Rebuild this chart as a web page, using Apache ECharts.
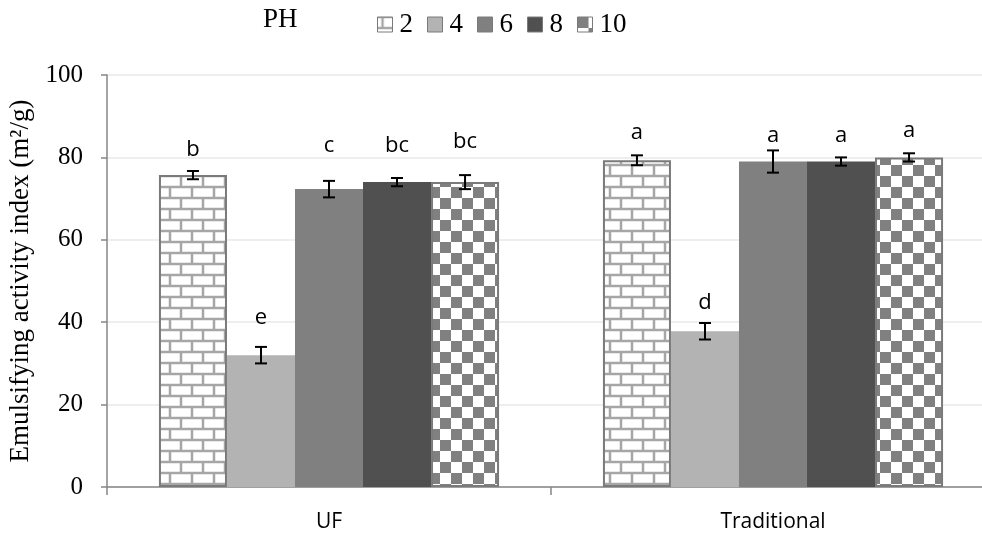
<!DOCTYPE html>
<html>
<head>
<meta charset="utf-8">
<script src="https://cdn.jsdelivr.net/npm/echarts@6/dist/echarts.min.js"></script>
<style>
html,body{margin:0;padding:0;background:#fff}
#chart{width:982px;height:538px}
</style>
</head>
<body>
<div id="chart"></div>
<script>
// 数据
var categories = ["UF", "Traditional"];
var phNames = ["2", "4", "6", "8", "10"];
var ph2 = [75.7, 79.3];
var ph4 = [32.0, 37.8];
var ph6 = [72.3, 79.0];
var ph8 = [74.0, 79.0];
var ph10 = [74.0, 80.0];
var err2 = [1.0, 1.2];
var err4 = [2.0, 2.0];
var err6 = [2.0, 2.7];
var err8 = [1.0, 1.0];
var err10 = [1.7, 1.0];
// 显著性字母及其基线高度(数据单位)
var letters2 = ["b", "a"];
var letters4 = ["e", "d"];
var letters6 = ["c", "a"];
var letters8 = ["bc", "a"];
var letters10 = ["bc", "a"];
var letterAt2 = [80.1, 84.2];
var letterAt4 = [39.3, 43.0];
var letterAt6 = [81.1, 83.5];
var letterAt8 = [81.1, 83.5];
var letterAt10 = [82.0, 84.7];
var yTicks = [0, 20, 40, 60, 80, 100];

var values = [ph2, ph4, ph6, ph8, ph10];
var errs = [err2, err4, err6, err8, err10];
var letters = [letters2, letters4, letters6, letters8, letters10];
var letterAt = [letterAt2, letterAt4, letterAt6, letterAt8, letterAt10];

var SERIF = "'Liberation Serif'";
var SANS = "'Open Sans'";

// 砖块纹理
function brickPattern(){
	var c = document.createElement("canvas");
	c.width = 22; c.height = 22;
	var ctx = c.getContext("2d");
	ctx.fillStyle = "#ffffff";
	ctx.fillRect(0, 0, 22, 22);
	ctx.strokeStyle = "#a6a6a6";
	ctx.lineWidth = 2.5;
	ctx.beginPath();
	ctx.moveTo(0, 0); ctx.lineTo(22, 0);
	ctx.moveTo(0, 11); ctx.lineTo(22, 11);
	ctx.moveTo(0, 22); ctx.lineTo(22, 22);
	ctx.moveTo(5, 0); ctx.lineTo(5, 11);
	ctx.moveTo(16, 11); ctx.lineTo(16, 22);
	ctx.stroke();
	return c;
}
// 棋盘纹理
function checkPattern(){
	var c = document.createElement("canvas");
	c.width = 22; c.height = 22;
	var ctx = c.getContext("2d");
	ctx.fillStyle = "#ffffff";
	ctx.fillRect(0, 0, 22, 22);
	ctx.fillStyle = "#808080";
	ctx.fillRect(0, 0, 11, 11);
	ctx.fillRect(11, 11, 11, 11);
	return c;
}

var fills = [
	{image: brickPattern(), repeat: "repeat"},
	"#b3b3b3",
	"#808080",
	"#505050",
	{image: checkPattern(), repeat: "repeat"}
];
var borders = [2, 0, 0, 0, 2];
var gapRatio = 0.234;

var series = [];
phNames.forEach(function(name, i){
	series.push({
		name: name,
		type: "bar",
		barGap: 0,
		barCategoryGap: (gapRatio * 100) + "%",
		itemStyle: {color: fills[i], borderColor: "#7a7a7a", borderWidth: borders[i]},
		data: values[i]
	});
});

// 误差线 + 字母标注
phNames.forEach(function(name, i){
	series.push({
		type: "custom",
		z: 5,
		silent: true,
		data: values[i].map(function(v, j){ return [j, v, errs[i][j], letterAt[i][j]]; }),
		renderItem: function(params, api){
			var j = api.value(0);
			var v = api.value(1);
			var e = api.value(2);
			var bw = api.size([1, 0])[0];
			var barW = bw * (1 - gapRatio) / 5;
			var cx = api.coord([j, 0])[0] + (i - 2) * barW;
			var top = api.coord([j, v + e])[1];
			var bot = api.coord([j, v - e])[1];
			var ly = api.coord([j, api.value(3)])[1];
			var cap = 6;
			var st = {stroke: "#000", lineWidth: 2};
			return {
				type: "group",
				children: [
					{type: "line", shape: {x1: cx, y1: top, x2: cx, y2: bot}, style: st},
					{type: "line", shape: {x1: cx - cap, y1: top, x2: cx + cap, y2: top}, style: st},
					{type: "line", shape: {x1: cx - cap, y1: bot, x2: cx + cap, y2: bot}, style: st},
					{type: "text", x: cx, y: ly - 7,
						style: {text: letters[i][j], fill: "#000", font: "22px " + SANS, align: "center", verticalAlign: "middle"}}
				]
			};
		}
	});
});

var myChart = echarts.init(document.getElementById("chart"));
var option = {
	animation: false,
	grid: {left: 107, top: 75, height: 412, width: 888, outerBoundsMode: "none", containLabel: false},
	graphic: [
		{type: "text", left: 263, top: 6, style: {text: "PH", fill: "#000", font: "27px " + SERIF}}
	],
	legend: {
		data: phNames,
		icon: "rect",
		left: 372,
		top: 6,
		itemWidth: 15,
		itemHeight: 15,
		itemGap: 14,
		itemStyle: {borderColor: "#7a7a7a", borderWidth: 1},
		textStyle: {fontFamily: SERIF, fontSize: 27, color: "#000", padding: [0, 0, 0, 2]}
	},
	xAxis: {
		type: "category",
		data: categories,
		axisLine: {lineStyle: {color: "#868686", width: 1.5}},
		axisTick: {show: true, length: 8, lineStyle: {color: "#868686", width: 1.5}},
		axisLabel: {fontFamily: SANS, fontSize: 21, color: "#000", margin: 25}
	},
	yAxis: {
		type: "value",
		min: yTicks[0],
		max: yTicks[yTicks.length - 1],
		interval: 20,
		name: "Emulsifying activity index (m²/g)",
		nameLocation: "middle",
		nameGap: 72,
		nameTextStyle: {fontFamily: SERIF, fontSize: 27, color: "#000"},
		axisLine: {show: true, lineStyle: {color: "#868686", width: 1.5}},
		axisTick: {show: true, inside: false, length: 6, lineStyle: {color: "#868686", width: 1.5}},
		axisLabel: {fontFamily: SERIF, fontSize: 25, color: "#000", margin: 24},
		splitLine: {lineStyle: {color: "#e8e8e8", width: 1.5}}
	},
	series: series
};
myChart.setOption(option);
</script>
</body>
</html>
